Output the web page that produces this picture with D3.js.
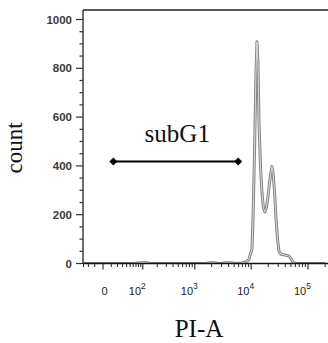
<!DOCTYPE html>
<html>
<head>
<meta charset="utf-8">
<script src="https://cdn.jsdelivr.net/npm/d3@7"></script>
<style>
  body { margin: 0; background: #fff; }
  svg { display: block; }
</style>
</head>
<body>
<script>
// PI-A histogram (flow cytometry, logicle-like axis)
var piValues = [-30, 0, 60, 90, 120, 150, 1500, 1900, 2300, 2600, 2900, 3500, 4200, 4800, 5400,
  6800, 7800, 9050, 9750, 10350, 10780, 11450, 12150, 12650, 13200, 13750, 14600, 15500,
  16500, 17500, 18600, 19800, 21000, 22350, 23250, 24200, 25700, 27300, 29100, 30900,
  33500, 39400, 46300, 50200, 54400, 61500, 200000];
var counts = [0, 0, 0, 3, 3, 0, 0, 3, 3, 0, 0, 3, 3, 2, 0,
  2, 5, 14, 40, 60, 180, 450, 780, 909, 820, 580, 400, 290,
  225, 212, 230, 275, 330, 375, 397, 375, 300, 190, 100, 50,
  38, 35, 30, 20, 5, 0, 0];

var yTicks = [0, 200, 400, 600, 800, 1000];
var xMajor = [0, 100, 1000, 10000, 100000];
var xLabels = [{v: 0, base: "0", exp: ""}, {v: 100, base: "10", exp: "2"},
  {v: 1000, base: "10", exp: "3"}, {v: 10000, base: "10", exp: "4"}, {v: 100000, base: "10", exp: "5"}];

var gateRange = [13, 5900];
var gateCount = 418;
var gateName = "subG1";

var width = 328, height = 343;
var mLeft = 83, mTop = 10, mBottom = 263.5;

var svg = d3.select("body").append("svg")
  .attr("width", width)
  .attr("height", height);

var x = d3.scaleSymlog().constant(25)
  .domain([0, 100000])
  .range([103, 308]);

var y = d3.scaleLinear()
  .domain([0, 1000])
  .range([mBottom, 19.5]);

// minor ticks
var xMinor = [-30, -20, -10, 10, 20, 30, 40, 50, 60, 70, 80, 90];
[100, 1000, 10000, 100000].forEach(function (p) {
  for (var m = 2; m <= 9; m++) xMinor.push(m * p);
});
var yMinor = d3.range(50, 1000, 50).filter(function (v) { return v % 200 !== 0; });

svg.append("clipPath").attr("id", "plot")
  .append("rect")
  .attr("x", mLeft).attr("y", mTop)
  .attr("width", width - mLeft).attr("height", mBottom - mTop);

// histogram
var pts = piValues.map(function (v, i) { return [v, counts[i]]; });
var line = d3.line()
  .x(function (d) { return x(d[0]); })
  .y(function (d) { return y(d[1]); });

var hist = svg.append("g").attr("clip-path", "url(#plot)");
hist.append("path")
  .datum(pts)
  .attr("d", line)
  .attr("fill", "none")
  .attr("stroke", "#858585")
  .attr("stroke-width", 3)
  .attr("stroke-linejoin", "round");
hist.append("path")
  .datum(pts)
  .attr("d", line)
  .attr("fill", "none")
  .attr("stroke", "#e4e4e4")
  .attr("stroke-width", 0.9)
  .attr("stroke-linejoin", "round");

// frame
svg.append("line")
  .attr("x1", mLeft).attr("x2", width)
  .attr("y1", mTop).attr("y2", mTop)
  .attr("stroke", "#222").attr("stroke-width", 1.3);

// y axis
var yAxis = svg.append("g")
  .attr("transform", "translate(" + mLeft + ",0)");
yAxis.append("line")
  .attr("x1", 0).attr("x2", 0)
  .attr("y1", mTop).attr("y2", mBottom)
  .attr("stroke", "#222").attr("stroke-width", 1.3);
yAxis.selectAll(".ymin")
  .data(yMinor)
  .enter().append("line")
  .attr("x1", -3.5).attr("x2", 0)
  .attr("y1", function (d) { return y(d); })
  .attr("y2", function (d) { return y(d); })
  .attr("stroke", "#333").attr("stroke-width", 1.2);
yAxis.selectAll(".ymaj")
  .data(yTicks)
  .enter().append("line")
  .attr("x1", -7).attr("x2", 0)
  .attr("y1", function (d) { return y(d); })
  .attr("y2", function (d) { return y(d); })
  .attr("stroke", "#333").attr("stroke-width", 1.2);
yAxis.selectAll(".ylab")
  .data(yTicks)
  .enter().append("text")
  .attr("x", -11)
  .attr("y", function (d) { return y(d) + 4; })
  .attr("text-anchor", "end")
  .attr("font-family", "Liberation Sans, Arial, sans-serif")
  .attr("font-size", 11.5)
  .attr("font-weight", "bold")
  .attr("fill", "#3a3a3a")
  .text(function (d) { return d; });

// x axis
var xAxis = svg.append("g")
  .attr("transform", "translate(0," + mBottom + ")");
xAxis.append("line")
  .attr("x1", mLeft).attr("x2", width)
  .attr("y1", 0).attr("y2", 0)
  .attr("stroke", "#111").attr("stroke-width", 1.6);
xAxis.selectAll(".xmin")
  .data(xMinor.filter(function (v) { return x(v) >= mLeft && x(v) <= width; }))
  .enter().append("line")
  .attr("x1", function (d) { return x(d); })
  .attr("x2", function (d) { return x(d); })
  .attr("y1", 0).attr("y2", 3.5)
  .attr("stroke", "#333").attr("stroke-width", 1.1);
xAxis.selectAll(".xmaj")
  .data(xMajor)
  .enter().append("line")
  .attr("x1", function (d) { return x(d); })
  .attr("x2", function (d) { return x(d); })
  .attr("y1", 0).attr("y2", 6)
  .attr("stroke", "#333").attr("stroke-width", 1.2);
var xl = xAxis.selectAll(".xlab")
  .data(xLabels)
  .enter().append("text")
  .attr("x", function (d) { return d.exp ? x(d.v) - 5.5 : x(d.v) + 1.5; })
  .attr("y", 31.5)
  .attr("text-anchor", "middle")
  .attr("font-family", "Liberation Sans, Arial, sans-serif")
  .attr("font-size", 11)
  .attr("fill", "#222");
xl.append("tspan").text(function (d) { return d.base; });
xl.append("tspan")
  .attr("dy", -6)
  .attr("font-size", 8.5)
  .text(function (d) { return d.exp; });

// gate
var gate = svg.append("g");
gate.append("line")
  .attr("x1", x(gateRange[0])).attr("x2", x(gateRange[1]))
  .attr("y1", y(gateCount)).attr("y2", y(gateCount))
  .attr("stroke", "#000").attr("stroke-width", 2.2);
gate.selectAll("path")
  .data(gateRange)
  .enter().append("path")
  .attr("d", d3.symbol(d3.symbolSquare, 32))
  .attr("transform", function (d) {
    return "translate(" + x(d) + "," + y(gateCount) + ") rotate(45)";
  })
  .attr("fill", "#000");
gate.append("text")
  .attr("x", (x(gateRange[0]) + x(gateRange[1])) / 2 + 1.5)
  .attr("y", 141.7)
  .attr("text-anchor", "middle")
  .attr("font-family", "Liberation Serif, Times New Roman, serif")
  .attr("font-size", 25)
  .attr("fill", "#111")
  .text(gateName);

// axis titles
svg.append("text")
  .attr("transform", "translate(22,148) rotate(-90)")
  .attr("text-anchor", "middle")
  .attr("font-family", "Liberation Serif, Times New Roman, serif")
  .attr("font-size", 23)
  .attr("fill", "#111")
  .text("count");

svg.append("text")
  .attr("x", 199)
  .attr("y", 336.7)
  .attr("text-anchor", "middle")
  .attr("font-family", "Liberation Serif, Times New Roman, serif")
  .attr("font-size", 25)
  .attr("fill", "#111")
  .text("PI-A");
</script>
</body>
</html>
